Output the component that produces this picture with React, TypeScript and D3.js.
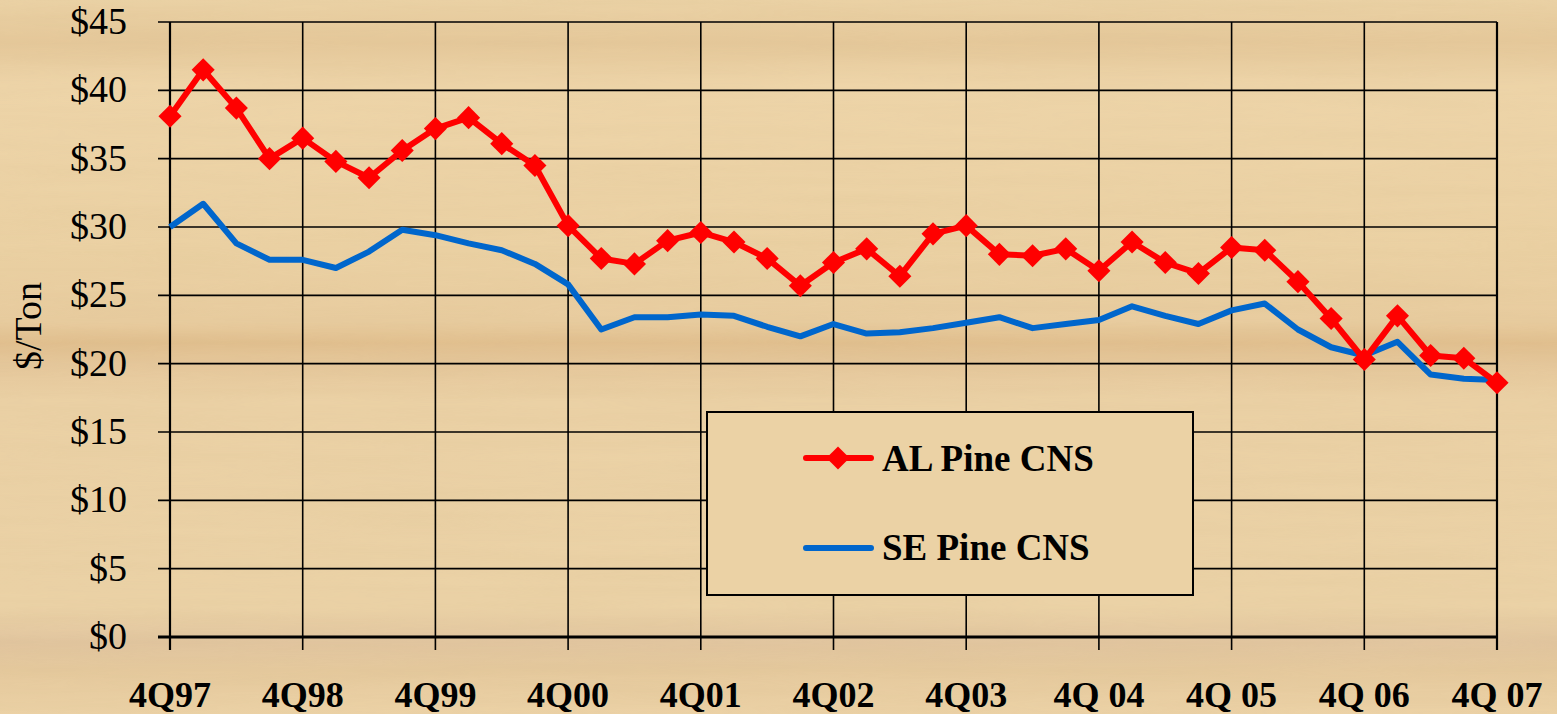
import React from "react";
import * as d3 from "d3";

const quarters: string[] = [
  "4Q97","1Q98","2Q98","3Q98","4Q98","1Q99","2Q99","3Q99","4Q99","1Q00","2Q00","3Q00",
  "4Q00","1Q01","2Q01","3Q01","4Q01","1Q02","2Q02","3Q02","4Q02","1Q03","2Q03","3Q03",
  "4Q03","1Q04","2Q04","3Q04","4Q04","1Q05","2Q05","3Q05","4Q05","1Q06","2Q06","3Q06",
  "4Q06","1Q07","2Q07","3Q07","4Q07"
];
const alPine: number[] = [
  38.1, 41.5, 38.7, 35.0, 36.5, 34.8, 33.6, 35.6, 37.2, 38.0, 36.1, 34.5,
  30.1, 27.7, 27.3, 29.0, 29.6, 28.9, 27.7, 25.7, 27.4, 28.4, 26.4, 29.5,
  30.1, 28.0, 27.9, 28.4, 26.8, 28.9, 27.4, 26.6, 28.5, 28.3, 26.0, 23.3,
  20.3, 23.5, 20.6, 20.4, 18.6
];
const sePine: number[] = [
  30.0, 31.7, 28.8, 27.6, 27.6, 27.0, 28.2, 29.8, 29.4, 28.8, 28.3, 27.3,
  25.8, 22.5, 23.4, 23.4, 23.6, 23.5, 22.7, 22.0, 22.9, 22.2, 22.3, 22.6,
  23.0, 23.4, 22.6, 22.9, 23.2, 24.2, 23.5, 22.9, 23.9, 24.4, 22.5, 21.2,
  20.6, 21.6, 19.2, 18.9, 18.8
];
const xTickLabels: string[] = ["4Q97","4Q98","4Q99","4Q00","4Q01","4Q02","4Q03","4Q 04","4Q 05","4Q 06","4Q 07"];
const yTicks: number[] = [0, 5, 10, 15, 20, 25, 30, 35, 40, 45];
const seriesNames: string[] = ["AL Pine CNS", "SE Pine CNS"];

const W = 1557, H = 714;
const left = 170, right = 1497, top = 22, bottom = 637;
const FONT = "'Liberation Serif', 'Times New Roman', serif";

export default function App() {
  const x = d3.scaleLinear().domain([0, quarters.length - 1]).range([left, right]);
  const y = d3.scaleLinear().domain([0, 45]).range([bottom, top]);
  const line = d3.line<number>().x((_, i) => x(i)).y(d => y(d));
  const diamond = d3.symbol().type(d3.symbolDiamond2 ?? d3.symbolSquare).size(340)();
  const yearIdx = xTickLabels.map((_, i) => i * 4);

  return (
    <svg width={W} height={H} style={{ position: "absolute", left: 0, top: 0, display: "block" }}>
      <defs>
        <linearGradient id="bg" x1="0" y1="0" x2="0" y2="1">
          <stop offset="0" stopColor="#ecd3a6" />
          <stop offset="0.06" stopColor="#e6c99b" />
          <stop offset="0.12" stopColor="#efd6aa" />
          <stop offset="0.35" stopColor="#ecd2a4" />
          <stop offset="0.45" stopColor="#e9cda0" />
          <stop offset="0.48" stopColor="#e2c08f" />
          <stop offset="0.51" stopColor="#e6c89c" />
          <stop offset="0.56" stopColor="#ecd2a6" />
          <stop offset="0.85" stopColor="#ecd3a7" />
          <stop offset="0.9" stopColor="#e2c6a0" />
          <stop offset="0.94" stopColor="#e6ca9e" />
          <stop offset="1" stopColor="#edd3a7" />
        </linearGradient>
        <filter id="grain" x="0" y="0" width="100%" height="100%">
          <feTurbulence type="fractalNoise" baseFrequency="0.004 0.08" numOctaves="2" seed="3" result="n" />
          <feColorMatrix type="matrix" values="0 0 0 0 0.55  0 0 0 0 0.4  0 0 0 0 0.2  0 0 0 0.18 0" />
        </filter>
      </defs>
      <rect x={0} y={0} width={W} height={H} fill="url(#bg)" />
      <rect x={0} y={0} width={W} height={H} filter="url(#grain)" opacity={0.6} />

      {/* horizontal gridlines */}
      {yTicks.map(t => (
        <line key={"h" + t} x1={left - 12} x2={right} y1={y(t)} y2={y(t)}
          stroke="#000" strokeWidth={t === 0 ? 3 : 1.6} />
      ))}
      {/* vertical gridlines */}
      {yearIdx.map(i => (
        <line key={"v" + i} x1={x(i)} x2={x(i)} y1={top} y2={bottom + 13}
          stroke="#000" strokeWidth={i === 0 || i === quarters.length - 1 ? 2.2 : 1.6} />
      ))}

      {/* y tick labels */}
      {yTicks.map(t => (
        <text key={"yl" + t} x={127} y={y(t) + 12} textAnchor="end" fontFamily={FONT}
          fontSize={38} fill="#000">{"$" + t}</text>
      ))}
      {/* x tick labels */}
      {yearIdx.map((i, k) => (
        <text key={"xl" + i} x={x(i)} y={707} textAnchor="middle" fontFamily={FONT}
          fontSize={36} fontWeight="bold" fill="#000">{xTickLabels[k]}</text>
      ))}
      {/* y title */}
      <text transform="translate(41,326) rotate(-90)" textAnchor="middle" fontFamily={FONT}
        fontSize={38} fill="#000">$/Ton</text>

      {/* series */}
      <path d={line(sePine) ?? ""} fill="none" stroke="#0066cc" strokeWidth={6} strokeLinejoin="round" />
      <path d={line(alPine) ?? ""} fill="none" stroke="#ff0000" strokeWidth={6} strokeLinejoin="round" />
      {alPine.map((v, i) => (
        <path key={"m" + i} d={diamond ?? ""} transform={`translate(${x(i)},${y(v)})`} fill="#ff0000" />
      ))}

      {/* legend */}
      <rect x={707} y={412} width={486} height={183} fill="#ebd2a5" stroke="#000" strokeWidth={2} />
      <line x1={806} x2={871} y1={458} y2={458} stroke="#ff0000" strokeWidth={6} strokeLinecap="round" />
      <path d={diamond ?? ""} transform="translate(838,458)" fill="#ff0000" />
      <text x={882} y={471} fontFamily={FONT} fontSize={37} fontWeight="bold" fill="#000">{seriesNames[0]}</text>
      <line x1={806} x2={871} y1={548} y2={548} stroke="#0066cc" strokeWidth={6} strokeLinecap="round" />
      <text x={882} y={560} fontFamily={FONT} fontSize={37} fontWeight="bold" fill="#000">{seriesNames[1]}</text>
    </svg>
  );
}
